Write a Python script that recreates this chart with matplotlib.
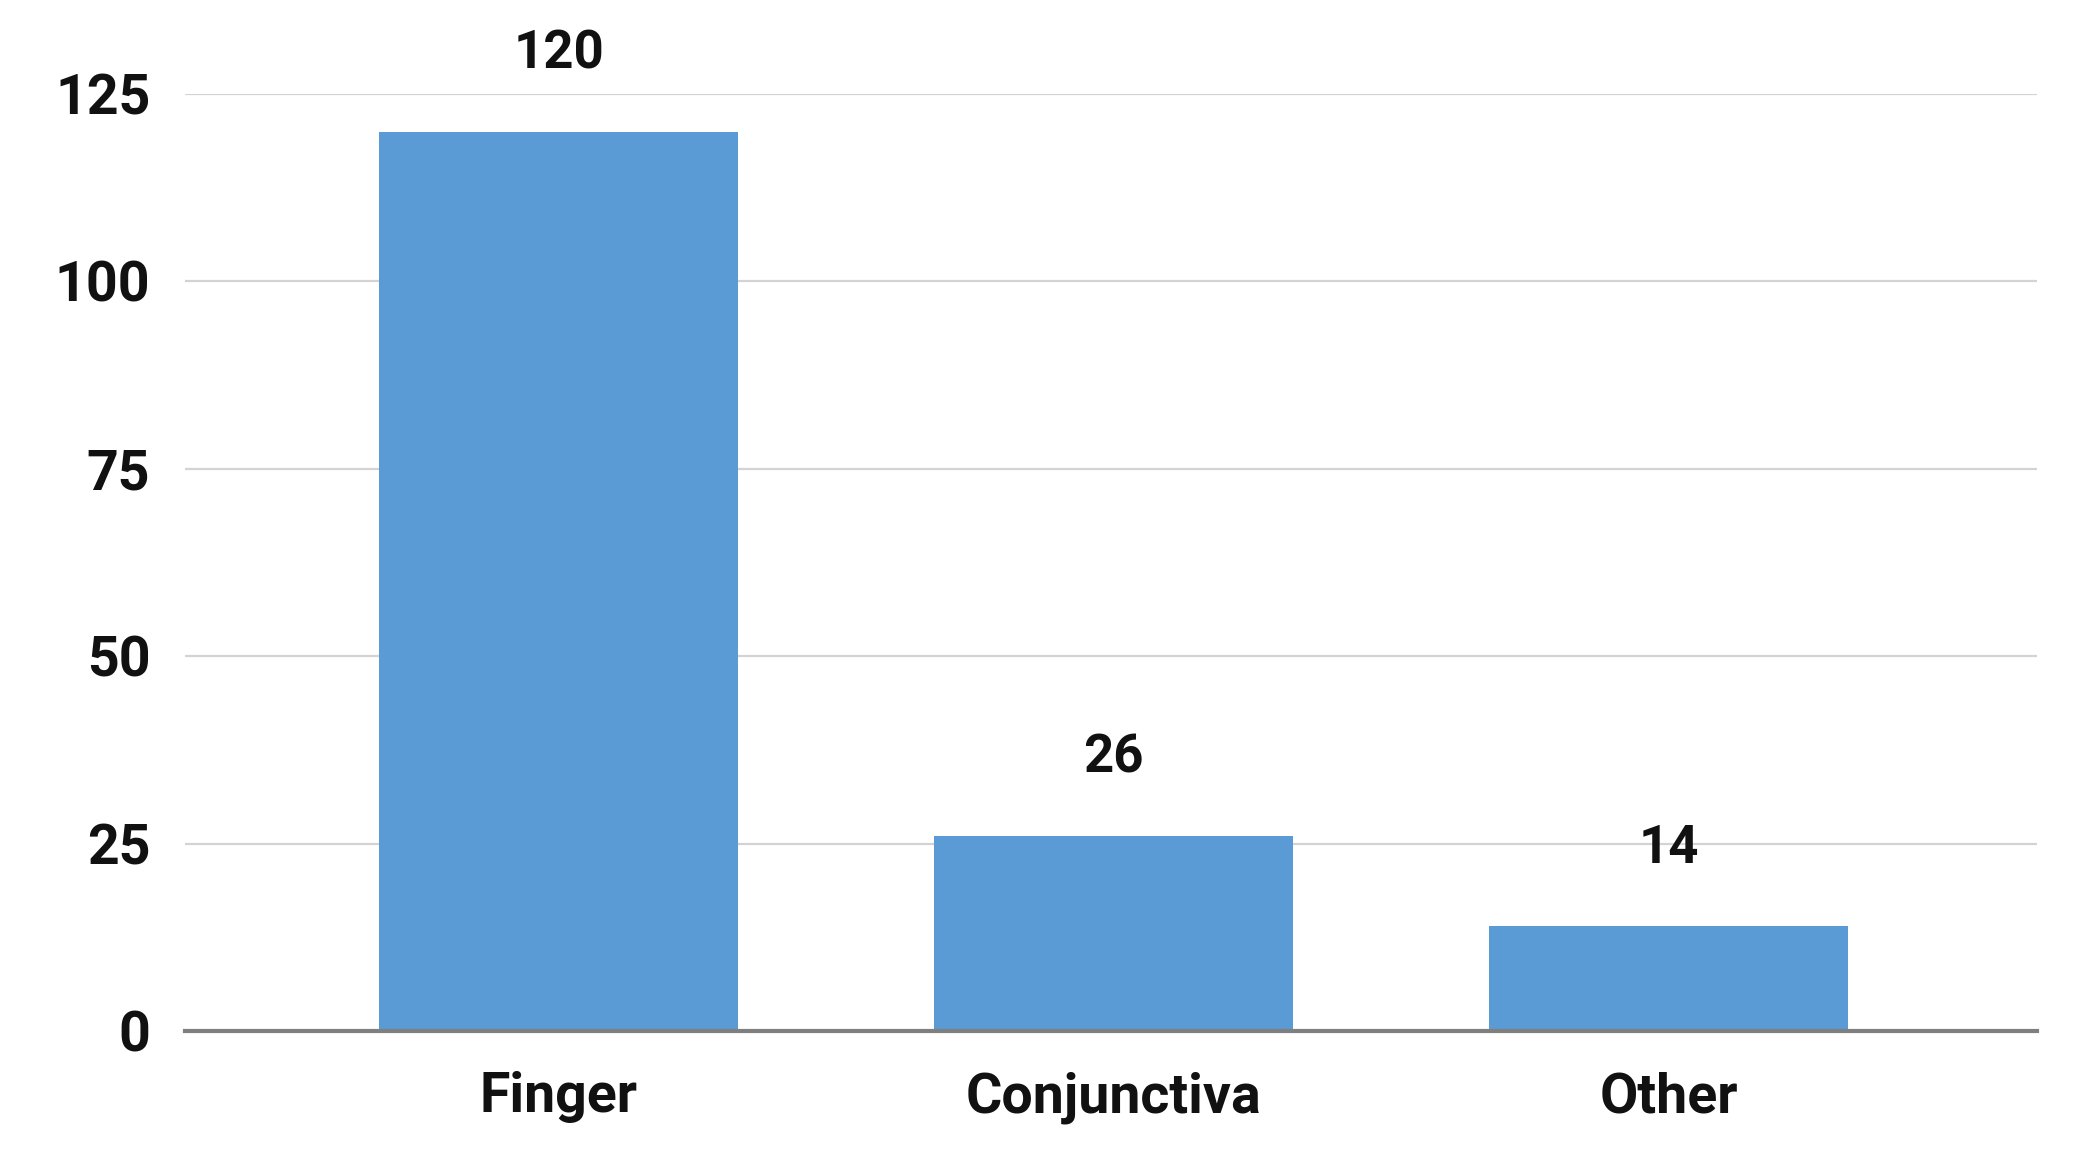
import matplotlib
matplotlib.use("Agg")
import matplotlib.pyplot as plt

categories = ["Finger", "Conjunctiva", "Other"]
values = [120, 26, 14]
yticks = [0, 25, 50, 75, 100, 125]

plt.rcParams['font.family'] = ['Roboto', 'DejaVu Sans']

fig = plt.figure(figsize=(20.77, 11.64), dpi=100)
ax = fig.add_axes([0.0891, 0.1143, 0.8916, 0.8049])

x = list(range(len(categories)))
ax.bar(x, values, width=0.646, color="#5B9BD5", zorder=3)

for xi, v in zip(x, values):
    ax.annotate(str(v), (xi, v), xytext=(0, 56), textcoords="offset points",
                ha="center", va="center", fontsize=38, fontweight="bold", color="#111111")

ax.set_xlim(-0.673, 2.664)
ax.set_ylim(0, 125)
ax.set_yticks(yticks)
ax.set_yticklabels([str(t) for t in yticks])
ax.set_xticks(x)
ax.set_xticklabels(categories)

for spine in ["top", "right", "left"]:
    ax.spines[spine].set_visible(False)
ax.spines["bottom"].set_color("#7f7f7f")
ax.spines["bottom"].set_linewidth(3)
ax.spines["bottom"].set_zorder(4)

ax.yaxis.grid(True, color="#d3d3d3", linewidth=1.6, zorder=0)
ax.set_axisbelow(True)

ax.tick_params(axis="both", length=0)
ax.tick_params(axis="y", pad=25, labelsize=40)
ax.tick_params(axis="x", pad=29, labelsize=40)
for lab in ax.get_xticklabels() + ax.get_yticklabels():
    lab.set_fontweight("bold")
    lab.set_color("#111111")

fig.savefig("out.png", dpi=100, facecolor="white")
